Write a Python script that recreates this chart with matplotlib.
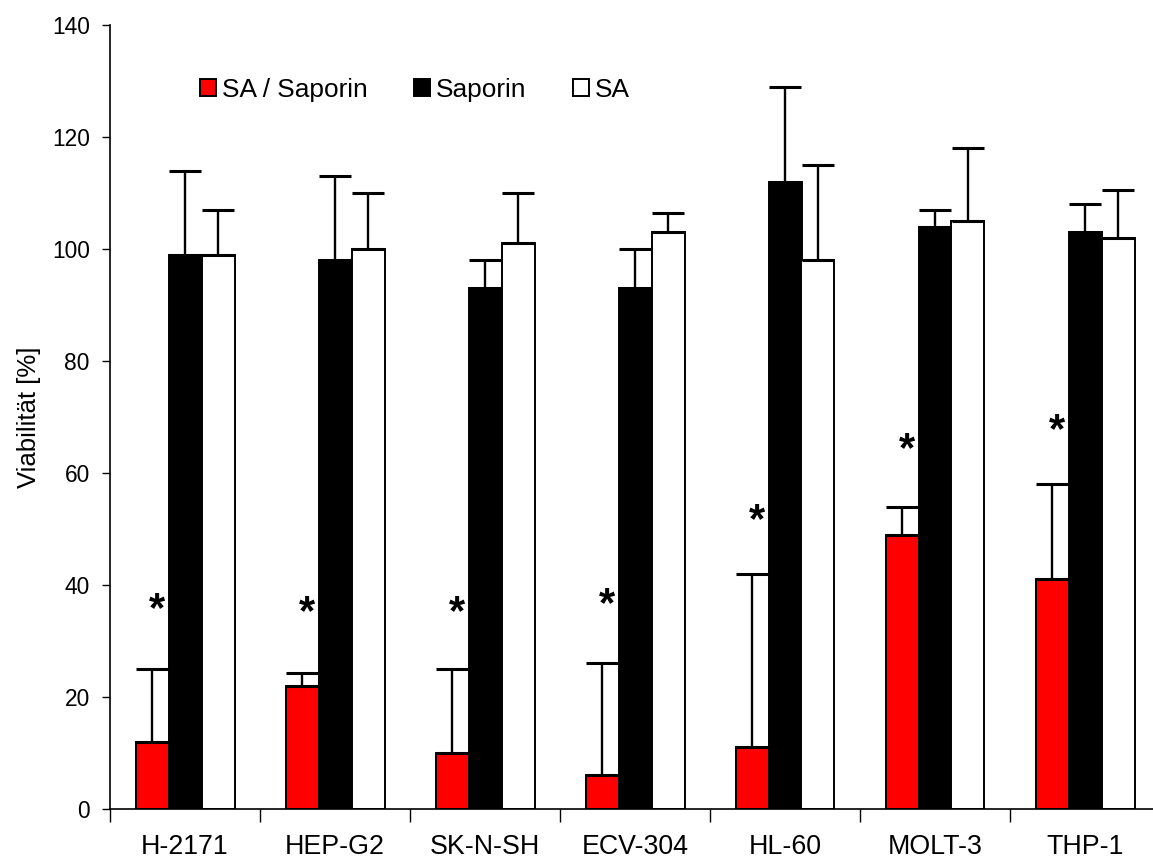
import numpy as np
import matplotlib
matplotlib.use("Agg")
import matplotlib.pyplot as plt
from matplotlib.patches import Patch

plt.rcParams['font.family'] = ['Liberation Sans', 'DejaVu Sans']

categories = ['H-2171', 'HEP-G2', 'SK-N-SH', 'ECV-304', 'HL-60', 'MOLT-3', 'THP-1']
sa_saporin = [12, 22, 10, 6, 11, 49, 41]
sa_saporin_err = [13, 2.3, 15, 20, 31, 5, 17]
saporin = [99, 98, 93, 93, 112, 104, 103]
saporin_err = [15, 15, 5, 7, 17, 3, 5]
sa = [99, 100, 101, 103, 98, 105, 102]
sa_err = [8, 10, 9, 3.5, 17, 13, 8.5]
# y of the significance stars (visual centre)
star_y = [37.7, 37.3, 37.3, 38.6, 53.6, 66.4, 69.8]

series = [
    ('SA / Saporin', sa_saporin, sa_saporin_err, '#ff0000'),
    ('Saporin', saporin, saporin_err, '#000000'),
    ('SA', sa, sa_err, '#ffffff'),
]

W, H = 1153, 859
fig = plt.figure(figsize=(W / 100, H / 100), dpi=100)
ax = fig.add_axes([110 / W, 50 / H, 1050 / W, 784 / H])

x = np.arange(len(categories))
bw = 0.22
for k, (name, vals, errs, col) in enumerate(series):
    pos = x + (k - 1) * bw
    ax.bar(pos, vals, bw, color=col, edgecolor='black', linewidth=1.4, zorder=2)
    ax.errorbar(pos, vals, yerr=[np.zeros(len(vals)), errs], fmt='none',
                ecolor='black', elinewidth=1.7, capsize=11.5, capthick=2.2, zorder=3)

for i, yy in enumerate(star_y):
    ax.annotate('*', (x[i] - 0.185, yy), xytext=(0, -17), textcoords='offset points',
                ha='center', va='baseline', fontsize=30, fontweight='bold', zorder=1)

ax.set_xlim(-0.5, len(categories) - 0.5)
ax.set_ylim(0, 140)
ax.set_yticks(np.arange(0, 141, 20))
ax.tick_params(axis='y', labelsize=16.4, length=6, width=1, pad=8.5)

ax.set_xticks(np.arange(-0.5, len(categories), 1.0))
ax.set_xticklabels([])
ax.set_xticks(x, minor=True)
ax.set_xticklabels(categories, minor=True, fontsize=19.3)
ax.tick_params(axis='x', which='major', length=9, width=1)
ax.tick_params(axis='x', which='minor', length=0, pad=18)

for s in ['top', 'right']:
    ax.spines[s].set_visible(False)
ax.spines['left'].set_linewidth(1.2)
ax.spines['bottom'].set_linewidth(1.2)

ax.set_ylabel('Viabilität [%]', fontsize=18.5, labelpad=8)

handles = [Patch(facecolor=c, edgecolor='black', linewidth=1.4, label=n) for n, _, _, c in series]
fig.legend(handles=handles, loc='center left', bbox_to_anchor=(200 / W, 1 - 90 / H),
           ncol=3, frameon=False, fontsize=18.9, handlelength=0.6, handleheight=0.6,
           handletextpad=0.25, columnspacing=1.75, borderpad=0, borderaxespad=0)

fig.savefig('out.png', dpi=100)
